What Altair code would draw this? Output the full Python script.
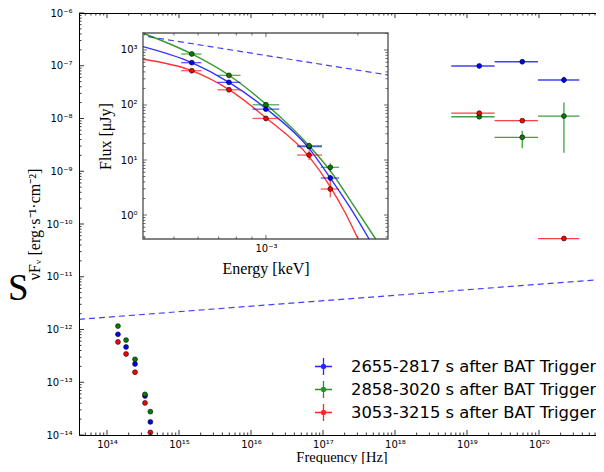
import altair as alt
import pandas as pd

# ---------------- data ----------------
SERIES = ["2655-2817 s after BAT Trigger",
          "2858-3020 s after BAT Trigger",
          "3053-3215 s after BAT Trigger"]
COLORS = ["#0000ff", "#008000", "#ff0000"]

# main panel: optical / NIR points (Hz, erg s^-1 cm^-2)
OPT_NU = [1.42e14, 1.84e14, 2.45e14, 3.37e14, 4.0e14]
OPT_BLUE = [8.1e-13, 4.66e-13, 2.22e-13, 5.5e-14, 1.77e-14]
OPT_GREEN = [1.16e-12, 6.3e-13, 2.72e-13, 5.9e-14, 2.77e-14]
OPT_RED = [5.8e-13, 3.43e-13, 1.55e-13, 4.05e-14, 1.12e-14]

# main panel: gamma-ray bins
GAM_NU = [1.48e19, 5.86e19, 2.22e20]
GAM_NU_LO = [6.05e18, 2.42e19, 9.67e19]
GAM_NU_HI = [2.42e19, 9.67e19, 3.63e20]
GAM_BLUE = [9.9e-8, 1.19e-7, 5.37e-8]
GAM_BLUE_LO = [9.6e-8, 1.16e-7, 4.7e-8]
GAM_BLUE_HI = [1.02e-7, 1.22e-7, 6.2e-8]
GAM_GREEN = [1.08e-8, 4.4e-9, 1.11e-8]
GAM_GREEN_LO = [1.04e-8, 2.72e-9, 2.25e-9]
GAM_GREEN_HI = [1.12e-8, 5.87e-9, 2.0e-8]
GAM_RED = [1.26e-8, 9.1e-9, 5.3e-11]
GAM_RED_LO = [1.22e-8, 8.4e-9, 5.1e-11]
GAM_RED_HI = [1.30e-8, 9.8e-9, 5.5e-11]

# main panel: dashed power law
PL_NU = [4.08e13, 7.99e20]
PL_NUFNU = [1.56e-12, 8.93e-12]

# inset: points (keV, microJy)
INS_E = [5.72e-4, 7.57e-4, 1.0e-3, 1.385e-3, 1.625e-3]
INS_E_LO = [5.28e-4, 6.94e-4, 9.04e-4, 1.265e-3, 1.512e-3]
INS_E_HI = [6.15e-4, 8.26e-4, 1.106e-3, 1.527e-3, 1.736e-3]
INS_BLUE = [588, 258, 84, 17.5, 4.7]
INS_BLUE_LO = [575, 252, 82, 16.6, 4.1]
INS_BLUE_HI = [602, 264, 86, 18.4, 5.4]
INS_GREEN = [846, 346, 101, 18.2, 7.36]
INS_GREEN_LO = [825, 338, 98.5, 17.3, 6.2]
INS_GREEN_HI = [868, 354, 103.5, 19.1, 8.7]
INS_RED = [420, 189, 57, 12.3, 2.97]
INS_RED_LO = [410, 184, 55.5, 10.0, 2.08]
INS_RED_HI = [430, 194, 58.5, 15.0, 4.2]

# inset: model curves
MODEL_BLUE_E = [3.96e-4, 5.72e-4, 7.57e-4, 1.005e-3, 1.385e-3, 1.627e-3, 1.881e-3, 2.176e-3]
MODEL_BLUE_F = [1148, 588, 258.6, 84.5, 16.3, 4.65, 1.40, 0.3665]
MODEL_GREEN_E = [3.96e-4, 5.72e-4, 7.57e-4, 1.005e-3, 1.385e-3, 1.627e-3, 1.924e-3, 2.288e-3]
MODEL_GREEN_F = [2014, 846, 347, 101.3, 18.2, 6.31, 1.585, 0.3665]
MODEL_RED_E = [3.96e-4, 5.72e-4, 7.57e-4, 1.005e-3, 1.385e-3, 1.627e-3, 1.812e-3, 2.004e-3]
MODEL_RED_F = [678, 420, 189.7, 57.3, 11.5, 3.23, 1.134, 0.3665]

# inset: dashed power law
INS_PL_E = [4.12e-4, 2.51e-3]
INS_PL_F = [1746, 351]

# ---------------- layout ----------------
W, H = 517, 422          # laid-out plot box (fits the window)
WX = 525                 # drawn x extent of the main axes (runs to the window edge)
XM = [10 ** 13.611, 10 ** 20.903]
YM = [1e-14, 1e-6]
XI = [3.96e-4, 2.51e-3]
YI = [0.3665, 2036.0]
XI_RANGE = [64, 309]
YI_RANGE = [226, 20]

SXM = alt.Scale(type="log", domain=XM, range=[0, WX])
SYM = alt.Scale(type="log", domain=YM, range=[H, 0])
SXI = alt.Scale(type="log", domain=XI, range=XI_RANGE)
SYI = alt.Scale(type="log", domain=YI, range=YI_RANGE)

SUPS = str.maketrans("-0123456789", "⁻⁰¹²³⁴⁵⁶⁷⁸⁹")


def label_expr(exps):
    e = "''"
    for k in exps:
        e = "round(log(datum.value) / LN10) == " + str(k) + " ? '10" + str(k).translate(SUPS) + "' : " + e
    return e


def major_minor(lo, hi, dmin, dmax):
    maj = [10.0 ** d for d in range(dmin, dmax + 1) if lo <= 10.0 ** d <= hi]
    mnr = [k * 10.0 ** d for d in range(dmin - 1, dmax + 1) for k in range(2, 10)
           if lo <= k * 10.0 ** d <= hi]
    return maj, mnr


MX_MAJ, MX_MIN = major_minor(XM[0], XM[1], 13, 21)
MY_MAJ, MY_MIN = major_minor(YM[0], YM[1], -14, -6)
IX_MAJ, IX_MIN = major_minor(XI[0], XI[1], -4, -2)
IY_MAJ, IY_MIN = major_minor(YI[0], YI[1], -1, 3)

LBL = dict(labelFont="DejaVu Sans", labelFontSize=10, labelColor="black",
           labelFlush=False, labelOverlap=False, ticks=False, grid=False)
TTL = dict(titleFont="Liberation Serif", titleFontWeight="normal",
           titleColor="black", titleAlign="center")

ax_xm = alt.Axis(values=MX_MAJ, labelExpr=label_expr(range(13, 22)), orient="bottom",
                 domain=True, domainColor="black", domainWidth=1, labelPadding=4,
                 title="Frequency [Hz]", titleX=WX / 2, titleY=26.5, titleFontSize=14.5,
                 titleBaseline="alphabetic", **LBL, **TTL)
ax_ym = alt.Axis(values=MY_MAJ, labelExpr=label_expr(range(-14, -5)), orient="left",
                 domain=True, domainColor="black", domainWidth=1, labelPadding=7,
                 title="νFᵥ [erg·s⁻¹·cm⁻²]", titleX=-45, titleY=H / 2, titleAngle=270,
                 titleFontSize=16, titleBaseline="middle", **LBL, **TTL)
ax_xi = alt.Axis(values=IX_MAJ, labelExpr=label_expr(range(-4, -1)), orient="bottom",
                 offset=-(H - YI_RANGE[0]), domain=False, labelPadding=4,
                 title="Energy [keV]", titleX=(XI_RANGE[0] + XI_RANGE[1]) / 2, titleY=29,
                 titleFontSize=16, titleBaseline="middle", **LBL, **TTL)
ax_yi = alt.Axis(values=IY_MAJ, labelExpr=label_expr(range(-1, 4)), orient="left",
                 offset=-XI_RANGE[0], domain=False, labelPadding=6, title="Flux [μJy]",
                 titleX=-38, titleY=(YI_RANGE[0] + YI_RANGE[1]) / 2, titleAngle=270,
                 titleFontSize=16, titleBaseline="middle", **LBL, **TTL)

# ---------------- tables ----------------
opt_rows = []
for s, c, vals in zip(SERIES, COLORS, [OPT_BLUE, OPT_GREEN, OPT_RED]):
    for nu, v in zip(OPT_NU, vals):
        opt_rows.append(dict(series=s, col=c, nu=nu, y=v))
opt_df = pd.DataFrame(opt_rows)

gam_rows = []
for s, c, v, vlo, vhi in zip(SERIES, COLORS,
                             [GAM_BLUE, GAM_GREEN, GAM_RED],
                             [GAM_BLUE_LO, GAM_GREEN_LO, GAM_RED_LO],
                             [GAM_BLUE_HI, GAM_GREEN_HI, GAM_RED_HI]):
    for i in range(len(GAM_NU)):
        gam_rows.append(dict(series=s, col=c, nu=GAM_NU[i], lo=GAM_NU_LO[i],
                             hi=GAM_NU_HI[i], y=v[i], ylo=vlo[i], yhi=vhi[i]))
gam_df = pd.DataFrame(gam_rows)

pl_df = pd.DataFrame(dict(nu=PL_NU, y=PL_NUFNU))

ins_rows = []
for s, c, v, vlo, vhi in zip(SERIES, COLORS,
                             [INS_BLUE, INS_GREEN, INS_RED],
                             [INS_BLUE_LO, INS_GREEN_LO, INS_RED_LO],
                             [INS_BLUE_HI, INS_GREEN_HI, INS_RED_HI]):
    for i in range(len(INS_E)):
        ins_rows.append(dict(series=s, col=c, e=INS_E[i], lo=INS_E_LO[i], hi=INS_E_HI[i],
                             f=v[i], flo=vlo[i], fhi=vhi[i]))
ins_df = pd.DataFrame(ins_rows)

mod_rows = []
for s, c, es, fs in zip(SERIES, COLORS,
                        [MODEL_BLUE_E, MODEL_GREEN_E, MODEL_RED_E],
                        [MODEL_BLUE_F, MODEL_GREEN_F, MODEL_RED_F]):
    for i, (e, f) in enumerate(zip(es, fs)):
        mod_rows.append(dict(series=s, col=c, i=i, e=e, f=f))
mod_df = pd.DataFrame(mod_rows)

ins_pl_df = pd.DataFrame(dict(e=INS_PL_E, f=INS_PL_F))
frame_df = pd.DataFrame(dict(e0=[XI[0]], e1=[XI[1]], f0=[YI[0]], f1=[YI[1]]))


# ---------------- legend symbol ----------------
def ring(r):
    return f"M{r},0A{r},{r},0,1,1,{-r},0A{r},{r},0,1,1,{r},0"


LEG_PATH = "M-1,0L1,0M0,-1L0,1" + "".join(ring(r) for r in [0.06, 0.155, 0.25])

# ---------------- main panel ----------------
pl = alt.Chart(pl_df).mark_line(color="#0000ff", strokeDash=[6, 4], strokeWidth=1.2,
                                opacity=0.75).encode(
    x=alt.X("nu:Q", scale=SXM, axis=ax_xm),
    y=alt.Y("y:Q", scale=SYM, axis=ax_ym))

gam_xerr = alt.Chart(gam_df).mark_rule(strokeWidth=1.3, opacity=0.75).encode(
    x=alt.X("lo:Q", scale=SXM, axis=None), x2="hi:Q",
    y=alt.Y("y:Q", scale=SYM, axis=None),
    color=alt.Color("series:N", scale=alt.Scale(domain=SERIES, range=COLORS),
                    legend=alt.Legend(title=None, orient="none", legendX=235, legendY=344,
                                      symbolType=LEG_PATH, symbolSize=289,
                                      symbolStrokeWidth=1.3, symbolOpacity=0.85,
                                      labelFont="DejaVu Sans", labelFontSize=16.4,
                                      labelColor="black", labelOffset=18, rowPadding=0,
                                      padding=0, labelLimit=400)))

gam_yerr = alt.Chart(gam_df).mark_rule(strokeWidth=1.3, opacity=0.75).encode(
    x=alt.X("nu:Q", scale=SXM, axis=None),
    y=alt.Y("ylo:Q", scale=SYM, axis=None), y2="yhi:Q",
    stroke=alt.Stroke("col:N", scale=None))

gam_pts = alt.Chart(gam_df).mark_circle(size=24, opacity=1, stroke="black",
                                        strokeWidth=0.6).encode(
    x=alt.X("nu:Q", scale=SXM, axis=None),
    y=alt.Y("y:Q", scale=SYM, axis=None),
    fill=alt.Fill("col:N", scale=None))

opt_pts = alt.Chart(opt_df).mark_circle(size=24, opacity=1, stroke="black",
                                        strokeWidth=0.6).encode(
    x=alt.X("nu:Q", scale=SXM, axis=None),
    y=alt.Y("y:Q", scale=SYM, axis=None),
    fill=alt.Fill("col:N", scale=None))


def hticks(vals, sx, y0, y1, color="black"):
    return alt.Chart(pd.DataFrame({"v": vals})).mark_rule(color=color, strokeWidth=0.8).encode(
        x=alt.X("v:Q", scale=sx, axis=None), y=alt.value(y0), y2=alt.value(y1))


def vticks(vals, sy, x0, x1, color="black"):
    return alt.Chart(pd.DataFrame({"v": vals})).mark_rule(color=color, strokeWidth=0.8).encode(
        y=alt.Y("v:Q", scale=sy, axis=None), x=alt.value(x0), x2=alt.value(x1))


main_ticks = [
    hticks(MX_MAJ, SXM, H, H - 5), hticks(MX_MIN, SXM, H, H - 2.5),
    hticks(MX_MAJ, SXM, 0, 5), hticks(MX_MIN, SXM, 0, 2.5),
    vticks(MY_MAJ, SYM, 0, 5), vticks(MY_MIN, SYM, 0, 2.5),
]

top_spine = alt.Chart(pd.DataFrame(dict(a=[XM[0]], b=[XM[1]]))).mark_rule(
    color="black", strokeWidth=1).encode(
    x=alt.X("a:Q", scale=SXM, axis=None), x2="b:Q", y=alt.value(0.5))

s_text = alt.Chart(pd.DataFrame(dict(t=["S"]))).mark_text(
    font="Liberation Serif", fontSize=37, align="left", baseline="alphabetic",
    color="black").encode(text="t:N", x=alt.value(-71), y=alt.value(287))

# ---------------- inset ----------------
frame = alt.Chart(frame_df).mark_rect(fill="white", stroke="#5a5a5a", strokeWidth=1.4).encode(
    x=alt.X("e0:Q", scale=SXI, axis=ax_xi), x2="e1:Q",
    y=alt.Y("f0:Q", scale=SYI, axis=ax_yi), y2="f1:Q")

ins_pl = alt.Chart(ins_pl_df).mark_line(color="#0000ff", strokeDash=[6, 4], strokeWidth=1.2,
                                        opacity=0.75).encode(
    x=alt.X("e:Q", scale=SXI, axis=None), y=alt.Y("f:Q", scale=SYI, axis=None))

curves = alt.Chart(mod_df).mark_line(interpolate="monotone", strokeWidth=1.4,
                                     opacity=0.8).encode(
    x=alt.X("e:Q", scale=SXI, axis=None), y=alt.Y("f:Q", scale=SYI, axis=None),
    stroke=alt.Stroke("col:N", scale=None), detail="series:N", order="i:Q")

ins_xerr = alt.Chart(ins_df).mark_rule(strokeWidth=1.3, opacity=0.65).encode(
    x=alt.X("lo:Q", scale=SXI, axis=None), x2="hi:Q",
    y=alt.Y("f:Q", scale=SYI, axis=None),
    stroke=alt.Stroke("col:N", scale=None))

ins_yerr = alt.Chart(ins_df).mark_rule(strokeWidth=1.3, opacity=0.65).encode(
    x=alt.X("e:Q", scale=SXI, axis=None),
    y=alt.Y("flo:Q", scale=SYI, axis=None), y2="fhi:Q",
    stroke=alt.Stroke("col:N", scale=None))

ins_pts = alt.Chart(ins_df).mark_circle(size=24, opacity=1, stroke="black",
                                        strokeWidth=0.6).encode(
    x=alt.X("e:Q", scale=SXI, axis=None), y=alt.Y("f:Q", scale=SYI, axis=None),
    fill=alt.Fill("col:N", scale=None))

ins_ticks = [
    hticks(IX_MAJ, SXI, YI_RANGE[0], YI_RANGE[0] - 4, "#444444"),
    hticks(IX_MIN, SXI, YI_RANGE[0], YI_RANGE[0] - 2.5, "#444444"),
    hticks(IX_MAJ, SXI, YI_RANGE[1], YI_RANGE[1] + 4, "#444444"),
    hticks(IX_MIN, SXI, YI_RANGE[1], YI_RANGE[1] + 2.5, "#444444"),
    vticks(IY_MAJ, SYI, XI_RANGE[0], XI_RANGE[0] + 4, "#444444"),
    vticks(IY_MIN, SYI, XI_RANGE[0], XI_RANGE[0] + 2.5, "#444444"),
    vticks(IY_MAJ, SYI, XI_RANGE[1], XI_RANGE[1] - 4, "#444444"),
    vticks(IY_MIN, SYI, XI_RANGE[1], XI_RANGE[1] - 2.5, "#444444"),
]

chart = alt.layer(
    pl, gam_xerr, gam_yerr, gam_pts, opt_pts, *main_ticks, top_spine, s_text,
    frame, ins_pl, curves, ins_xerr, ins_yerr, ins_pts, *ins_ticks,
).resolve_scale(x="independent", y="independent").properties(
    width=W, height=H,
    padding={"left": 71, "top": 5, "right": 0, "bottom": 29},
    autosize=alt.AutoSizeParams(type="none"),
).configure_view(stroke=None)

chart.save("out.html", embed_options={"renderer": "svg", "actions": False})
